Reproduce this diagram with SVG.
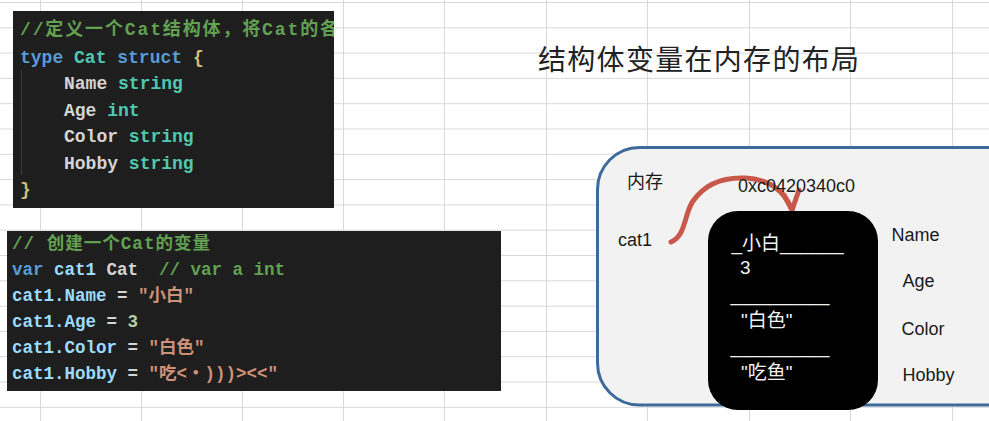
<svg xmlns="http://www.w3.org/2000/svg" width="989" height="421" viewBox="0 0 989 421">
<style>
.grid{stroke:#d9d9d9;stroke-width:1;fill:none}
.codebox{fill:#1e1e1e}
.code{font-family:"Liberation Mono","Noto Sans CJK SC",monospace;font-weight:bold;white-space:pre}
.c1{font-size:18px}
.c2{font-size:17.5px}
.cm{fill:#62a052}
.kw{fill:#569cd6}
.ty{fill:#4ec9b0}
.id{fill:#d4d4d4}
.vr{fill:#9cdcfe}
.st{fill:#ce9178}
.nm{fill:#b5cea8}
.br{fill:#d7ba7d}
.lbl{font-family:"Liberation Sans","Noto Sans CJK SC",sans-serif;font-size:18px;fill:#1a1a1a}
.inner{font-family:"Liberation Sans","Noto Sans CJK SC",sans-serif;font-size:19px;fill:#f2f2f2;white-space:pre}
.sep{font-size:17.8px}
.arrow{fill:none;stroke:#c8584a;stroke-width:5;stroke-linecap:round;stroke-linejoin:round}
</style>
<defs>
<clipPath id="clip1"><rect x="13" y="11" width="321" height="197"/></clipPath>
</defs>
<rect x="0" y="0" width="989" height="421" fill="#ffffff"/>
<path class="grid" d="M40.5,0V421M141.5,0V421M242.5,0V421M343.5,0V421M444.5,0V421M546.5,0V421M647.5,0V421M749.5,0V421M850.5,0V421M952.5,0V421M0,2.5H989M0,27.8H989M0,53.1H989M0,78.4H989M0,103.7H989M0,129H989M0,154.3H989M0,179.6H989M0,204.9H989M0,230.2H989M0,255.5H989M0,280.8H989M0,306.1H989M0,331.4H989M0,356.7H989M0,382H989M0,407.3H989"/>

<g id="code-struct">
<rect class="codebox" x="13" y="11" width="321" height="197"/>
<line x1="21.5" y1="70" x2="21.5" y2="175" stroke="#3a3a3a" stroke-width="1"/>
<g clip-path="url(#clip1)">
<text class="code c1 cm" x="20" y="35" textLength="318" lengthAdjust="spacing">//定义一个Cat结构体，将Cat的各</text>
</g>
<text class="code c1" x="20" y="62.5"><tspan class="kw">type</tspan> <tspan class="ty">Cat</tspan> <tspan class="kw">struct</tspan> <tspan class="br">{</tspan></text>
<text class="code c1" x="64" y="89"><tspan class="id">Name</tspan> <tspan class="ty">string</tspan></text>
<text class="code c1" x="64" y="115.5"><tspan class="id">Age</tspan> <tspan class="ty">int</tspan></text>
<text class="code c1" x="64" y="142"><tspan class="id">Color</tspan> <tspan class="ty">string</tspan></text>
<text class="code c1" x="64" y="168.5"><tspan class="id">Hobby</tspan> <tspan class="ty">string</tspan></text>
<text class="code c1 br" x="20" y="195">}</text>
</g>

<g id="code-var">
<rect class="codebox" x="7" y="231" width="494" height="160"/>
<text class="code c2 cm" x="12" y="249" textLength="198" lengthAdjust="spacing">// 创建一个Cat的变量</text>
<text class="code c2" x="12" y="274.5"><tspan class="kw">var</tspan> <tspan class="vr">cat1</tspan> <tspan class="id">Cat</tspan>  <tspan class="cm">// var a int</tspan></text>
<text class="code c2" x="12" y="300.5"><tspan class="vr">cat1.Name</tspan><tspan class="id"> = </tspan><tspan class="st">"小白"</tspan></text>
<text class="code c2" x="12" y="326.5"><tspan class="vr">cat1.Age</tspan><tspan class="id"> = </tspan><tspan class="nm">3</tspan></text>
<text class="code c2" x="12" y="352.5"><tspan class="vr">cat1.Color</tspan><tspan class="id"> = </tspan><tspan class="st">"白色"</tspan></text>
<text class="code c2" x="12" y="378.5"><tspan class="vr">cat1.Hobby</tspan><tspan class="id"> = </tspan><tspan class="st">"吃&lt;・)))&gt;&lt;&lt;"</tspan></text>
</g>

<g id="title">
<text x="538" y="70" font-family="'Noto Sans CJK SC',sans-serif" font-size="28" fill="#222222" letter-spacing="1.3">结构体变量在内存的布局</text>
</g>

<g id="memory">
<rect x="597.5" y="147.5" width="440" height="257.5" rx="42" ry="42" fill="#f2f2f2" stroke="#3d6a99" stroke-width="3"/>
</g>

<g id="connectors">
<path class="arrow" d="M671,242 C686,236 684,214 693,201 C705,184 724,177 745,178 C768,179 784,190 792,210"/>
<path class="arrow" d="M784,195 L792,210 L799,190"/>
</g>

<g id="cat1-block">
<rect x="708" y="211" width="170" height="199" rx="30" ry="30" fill="#000000"/>
<text class="inner" x="731.5" y="250">_小白______</text>
<text class="inner" x="740" y="274" font-size="17">3</text>
<text class="inner sep" x="730.5" y="301">__________</text>
<text class="inner" x="741" y="327">"白色"</text>
<text class="inner sep" x="730.5" y="353">__________</text>
<text class="inner" x="741" y="379">"吃鱼"</text>
</g>

<g id="labels">
<text class="lbl" x="627" y="188" font-size="20">内存</text>
<text class="lbl" x="738" y="192" font-size="17.5">0xc0420340c0</text>
<text class="lbl" x="618" y="246">cat1</text>
<text class="lbl" x="891.5" y="241">Name</text>
<text class="lbl" x="902.5" y="287">Age</text>
<text class="lbl" x="901.5" y="335">Color</text>
<text class="lbl" x="902.5" y="381">Hobby</text>
</g>
</svg>
